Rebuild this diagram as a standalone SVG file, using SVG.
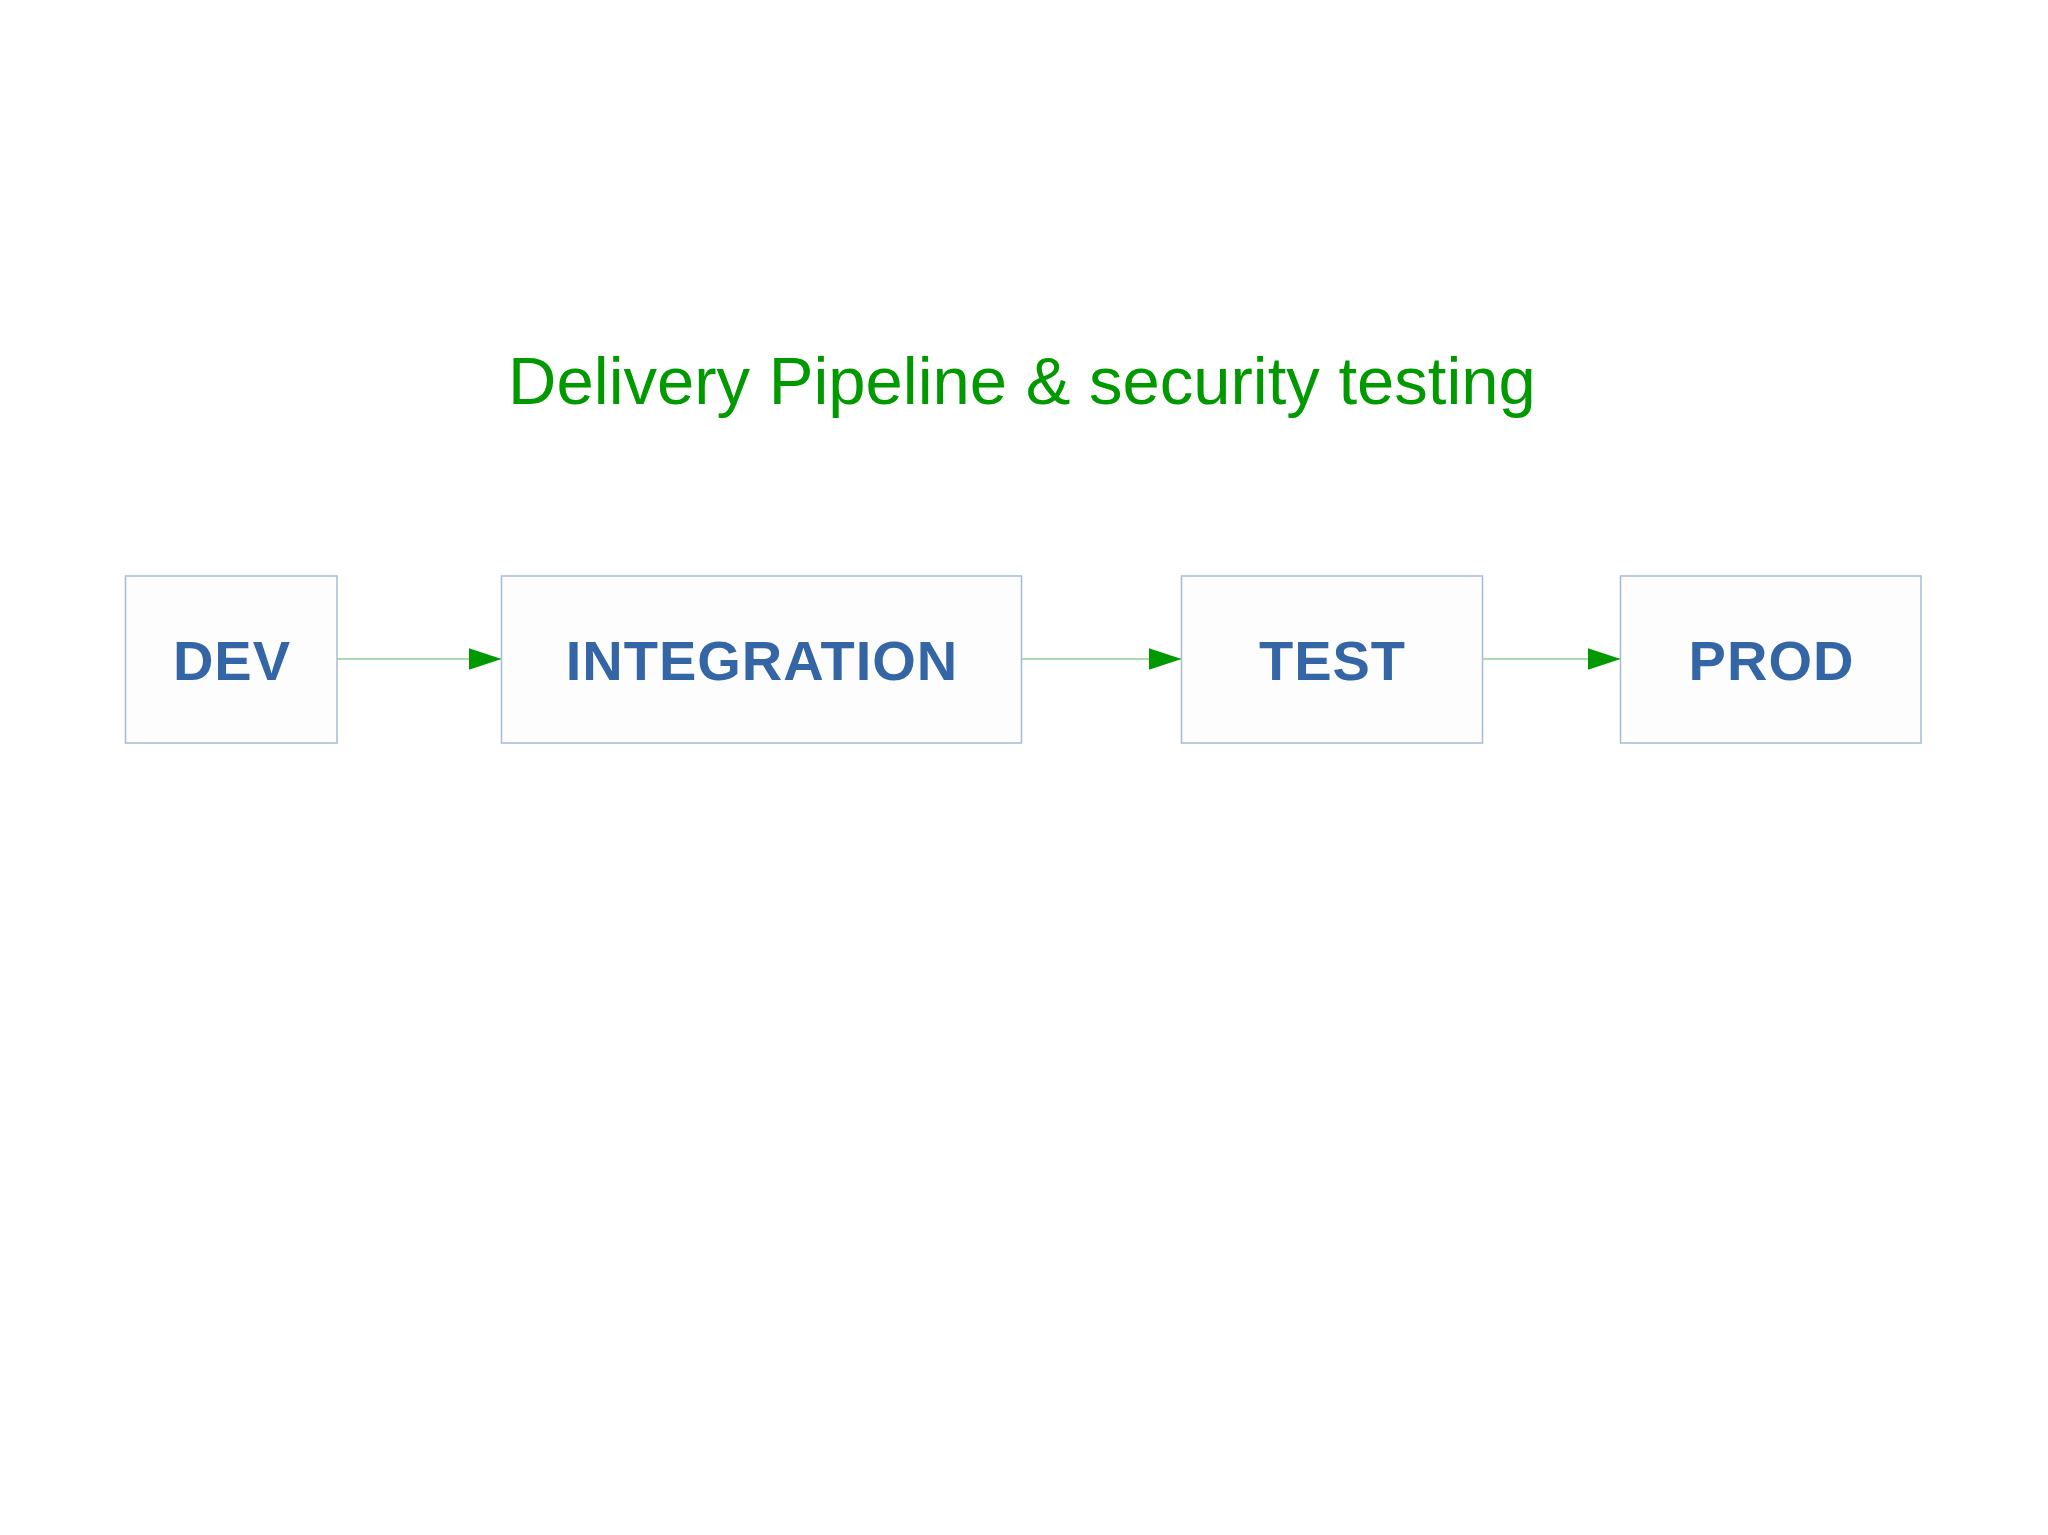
<svg xmlns="http://www.w3.org/2000/svg" width="2048" height="1535" viewBox="0 0 2048 1535">
<defs>
<style>
.box{fill:#fdfdfe;stroke:#a8bbd5;stroke-width:1.5}
.lbl{font-family:"Liberation Sans",Arial,sans-serif;font-weight:bold;font-size:56px;letter-spacing:1px;fill:#3465a4;text-anchor:middle}
.title{font-family:"Liberation Sans",Arial,sans-serif;font-size:67px;fill:#009900;text-anchor:middle}
.conn{stroke:#8fd08f;stroke-width:1.5;fill:none}
</style>
<marker id="arr" viewBox="0 0 33 22" refX="33" refY="11" markerWidth="33" markerHeight="22" markerUnits="userSpaceOnUse" orient="auto">
<path d="M0,0 L33,11 L0,22 Z" fill="#009900"/>
</marker>
</defs>
<rect width="2048" height="1535" fill="#ffffff"/>
<text class="title" x="1022" y="404">Delivery Pipeline &amp; security testing</text>
<g id="connectors">
<line class="conn" x1="337" y1="659" x2="501.5" y2="659" marker-end="url(#arr)"/>
<line class="conn" x1="1021.5" y1="659" x2="1181.5" y2="659" marker-end="url(#arr)"/>
<line class="conn" x1="1482.5" y1="659" x2="1620.5" y2="659" marker-end="url(#arr)"/>
</g>
<g id="dev">
<rect class="box" x="125.5" y="576" width="211.5" height="167"/>
<text class="lbl" x="232" y="680">DEV</text>
</g>
<g id="integration">
<rect class="box" x="501.5" y="576" width="520" height="167"/>
<text class="lbl" x="762" y="680">INTEGRATION</text>
</g>
<g id="test">
<rect class="box" x="1181.5" y="576" width="301" height="167"/>
<text class="lbl" x="1332.5" y="680">TEST</text>
</g>
<g id="prod">
<rect class="box" x="1620.5" y="576" width="300.5" height="167"/>
<text class="lbl" x="1771.5" y="680">PROD</text>
</g>
</svg>
